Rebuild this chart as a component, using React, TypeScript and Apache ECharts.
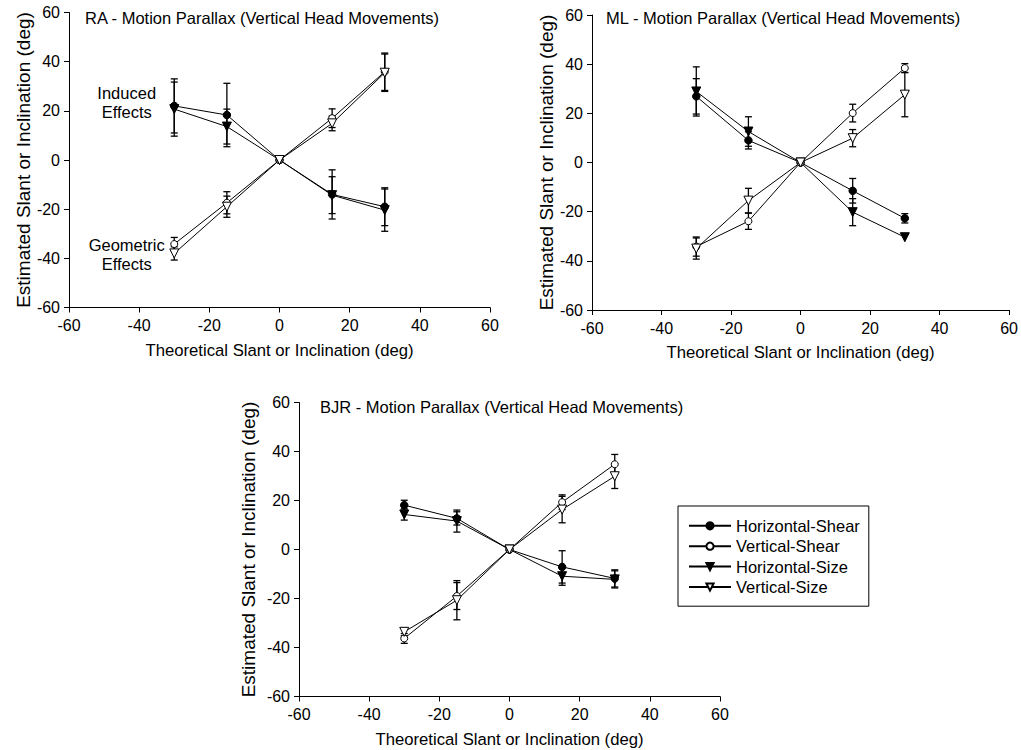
import { useEffect, useRef } from "react";
import * as echarts from "echarts";

const xValues = [-30, -15, 0, 15, 30];
const seriesNames = ["Horizontal-Shear", "Vertical-Shear", "Horizontal-Size", "Vertical-Size"];
const panelTitles = [
  "RA - Motion Parallax (Vertical Head Movements)",
  "ML - Motion Parallax (Vertical Head Movements)",
  "BJR - Motion Parallax (Vertical Head Movements)",
];
const xAxisTitle = "Theoretical Slant or Inclination (deg)";
const yAxisTitle = "Estimated Slant or Inclination (deg)";
const axisMin = -60;
const axisMax = 60;
const axisStep = 20;

// RA
const raHorizontalShear = [22.0, 18.3, 0, -14.0, -19.0];
const raHorizontalShearErr = [11.0, 12.9, 0, 10.0, 7.7];
const raVerticalShear = [-34.2, -17.4, 0, 17.0, 35.9];
const raVerticalShearErr = [2.7, 4.5, 0, 3.8, 7.6];
const raHorizontalSize = [20.7, 13.6, 0, -14.3, -20.4];
const raHorizontalSizeErr = [11.0, 7.1, 0, 7.5, 8.6];
const raVerticalSize = [-38.0, -19.0, 0, 14.9, 35.5];
const raVerticalSizeErr = [2.7, 4.3, 0, 3.0, 7.6];

// ML
const mlHorizontalShear = [26.9, 9.0, 0, -11.5, -22.7];
const mlHorizontalShearErr = [7.2, 3.5, 0, 5.0, 1.9];
const mlVerticalShear = [-34.2, -23.9, 0, 20.1, 38.4];
const mlVerticalShearErr = [3.9, 3.3, 0, 3.6, 1.8];
const mlHorizontalSize = [28.9, 12.6, 0, -20.2, -30.4];
const mlHorizontalSizeErr = [10.0, 6.0, 0, 5.5, 0];
const mlVerticalSize = [-35.0, -15.5, 0, 9.9, 27.6];
const mlVerticalSizeErr = [4.3, 5.0, 0, 3.5, 9.0];

// BJR
const bjrHorizontalShear = [18.1, 12.7, 0, -7.1, -11.8];
const bjrHorizontalShearErr = [2.0, 2.7, 0, 6.6, 3.5];
const bjrVerticalShear = [-36.3, -19.0, 0, 19.3, 34.8];
const bjrVerticalShearErr = [2.0, 5.5, 0, 3.0, 4.0];
const bjrHorizontalSize = [14.3, 11.6, 0, -10.9, -12.2];
const bjrHorizontalSizeErr = [2.3, 4.5, 0, 3.7, 3.5];
const bjrVerticalSize = [-33.6, -20.7, 0, 16.3, 29.9];
const bjrVerticalSizeErr = [1.6, 8.0, 0, 5.4, 5.0];

const panelValues = [
  [raHorizontalShear, raVerticalShear, raHorizontalSize, raVerticalSize],
  [mlHorizontalShear, mlVerticalShear, mlHorizontalSize, mlVerticalSize],
  [bjrHorizontalShear, bjrVerticalShear, bjrHorizontalSize, bjrVerticalSize],
];
const panelErrors = [
  [raHorizontalShearErr, raVerticalShearErr, raHorizontalSizeErr, raVerticalSizeErr],
  [mlHorizontalShearErr, mlVerticalShearErr, mlHorizontalSizeErr, mlVerticalSizeErr],
  [bjrHorizontalShearErr, bjrVerticalShearErr, bjrHorizontalSizeErr, bjrVerticalSizeErr],
];

const FONT = "'Liberation Sans', Arial, sans-serif";
const grids = [
  { left: 69, top: 12.5, width: 421, height: 295 },
  { left: 592, top: 15, width: 421, height: 295 },
  { left: 299, top: 402.5, width: 421, height: 294 },
];
const titlePos = [
  { left: 85, top: 9.5 },
  { left: 606, top: 9.5 },
  { left: 320, top: 398 },
];
const yNameGaps = [36, 36, 41];
const markerStyles = [
  { symbol: "circle", size: 7.5, fill: "#000", rotate: 0 },
  { symbol: "circle", size: 7, fill: "#fff", rotate: 0 },
  { symbol: "triangle", size: 9, fill: "#000", rotate: 180 },
  { symbol: "triangle", size: 9, fill: "#fff", rotate: 180 },
];

function buildOption() {
  const series: any[] = [];
  panelValues.forEach((vals, p) => {
    vals.forEach((ys, s) => {
      const errs = panelErrors[p][s];
      const errData = xValues
        .map((x, i) => [x, ys[i] - errs[i], ys[i] + errs[i], errs[i]])
        .filter((d) => d[3] > 0);
      series.push({
        type: "custom",
        name: seriesNames[s] + " error " + p,
        xAxisIndex: p,
        yAxisIndex: p,
        z: 1,
        silent: true,
        data: errData,
        encode: { x: 0, y: [1, 2] },
        renderItem: (_params: any, api: any) => {
          const x = api.value(0);
          const lo = api.coord([x, api.value(1)]);
          const hi = api.coord([x, api.value(2)]);
          const w = 3.5;
          const st = { stroke: "#000", lineWidth: 1.3 };
          return {
            type: "group",
            children: [
              { type: "line", shape: { x1: lo[0], y1: lo[1], x2: hi[0], y2: hi[1] }, style: st },
              { type: "line", shape: { x1: lo[0] - w, y1: lo[1], x2: lo[0] + w, y2: lo[1] }, style: st },
              { type: "line", shape: { x1: hi[0] - w, y1: hi[1], x2: hi[0] + w, y2: hi[1] }, style: st },
            ],
          };
        },
      });
      const m = markerStyles[s];
      series.push({
        type: "line",
        name: seriesNames[s],
        xAxisIndex: p,
        yAxisIndex: p,
        z: 3,
        data: xValues.map((x, i) => [x, ys[i]]),
        symbol: m.symbol,
        symbolSize: m.size,
        symbolRotate: m.rotate,
        showSymbol: true,
        lineStyle: { color: "#000", width: 1 },
        itemStyle: { color: m.fill, borderColor: "#000", borderWidth: 1, opacity: 1 },
        emphasis: { disabled: true },
      });
    });
  });

  const axisCommon = {
    type: "value",
    min: axisMin,
    max: axisMax,
    interval: axisStep,
    splitLine: { show: false },
    axisLine: { show: true, onZero: false, lineStyle: { color: "#000", width: 1 } },
    axisTick: { show: true, inside: false, length: 5, lineStyle: { color: "#000", width: 1 } },
    nameLocation: "middle",
    nameTruncate: { maxWidth: 600 },
  };
  const nameStyle = (size: number) => ({
    color: "#000",
    fontSize: size,
    fontFamily: FONT,
    width: 600,
    overflow: "none",
  });

  return {
    animation: false,
    backgroundColor: "#fff",
    textStyle: { fontFamily: FONT },
    title: panelTitles.map((t, i) => ({
      text: t,
      left: titlePos[i].left,
      top: titlePos[i].top,
      padding: 0,
      textStyle: { color: "#000", fontSize: 16.5, fontWeight: "normal", fontFamily: FONT },
    })),
    grid: grids.map((g) => ({ ...g, containLabel: false })),
    xAxis: grids.map((_, i) => ({
      ...axisCommon,
      gridIndex: i,
      name: xAxisTitle,
      nameGap: 34,
      nameTextStyle: nameStyle(16.7),
      axisLabel: { color: "#000", fontSize: 16, margin: 10, fontFamily: FONT },
    })),
    yAxis: grids.map((_, i) => ({
      ...axisCommon,
      gridIndex: i,
      name: yAxisTitle,
      nameGap: yNameGaps[i],
      nameRotate: 90,
      nameTextStyle: nameStyle(19),
      axisLabel: { color: "#000", fontSize: 16, margin: 9, fontFamily: FONT },
    })),
    legend: {
      data: seriesNames,
      orient: "vertical",
      left: 678,
      top: 506,
      padding: [11.3, 9, 10.7, 10],
      borderColor: "#000",
      borderWidth: 1,
      itemWidth: 42,
      itemHeight: 9,
      itemGap: 3.4,
      selectedMode: false,
      textStyle: { color: "#000", fontSize: 16.5, fontFamily: FONT },
    },
    graphic: [
      {
        type: "text",
        x: 126.7,
        y: 102.2,
        style: {
          text: "Induced\nEffects",
          fill: "#000",
          font: `16.5px ${FONT}`,
          lineHeight: 19,
          align: "center",
          verticalAlign: "middle",
        },
      },
      {
        type: "text",
        x: 126.7,
        y: 254,
        style: {
          text: "Geometric\nEffects",
          fill: "#000",
          font: `16.5px ${FONT}`,
          lineHeight: 19,
          align: "center",
          verticalAlign: "middle",
        },
      },
    ],
    series,
  };
}

export default function App() {
  const ref = useRef<HTMLDivElement>(null);
  useEffect(() => {
    if (!ref.current) return;
    const chart = echarts.init(ref.current, undefined, { renderer: "svg" });
    chart.setOption(buildOption() as any);
    return () => chart.dispose();
  }, []);
  return (
    <div
      ref={ref}
      style={{ position: "fixed", left: 0, top: 0, width: 1021, height: 750, background: "#fff" }}
    />
  );
}
